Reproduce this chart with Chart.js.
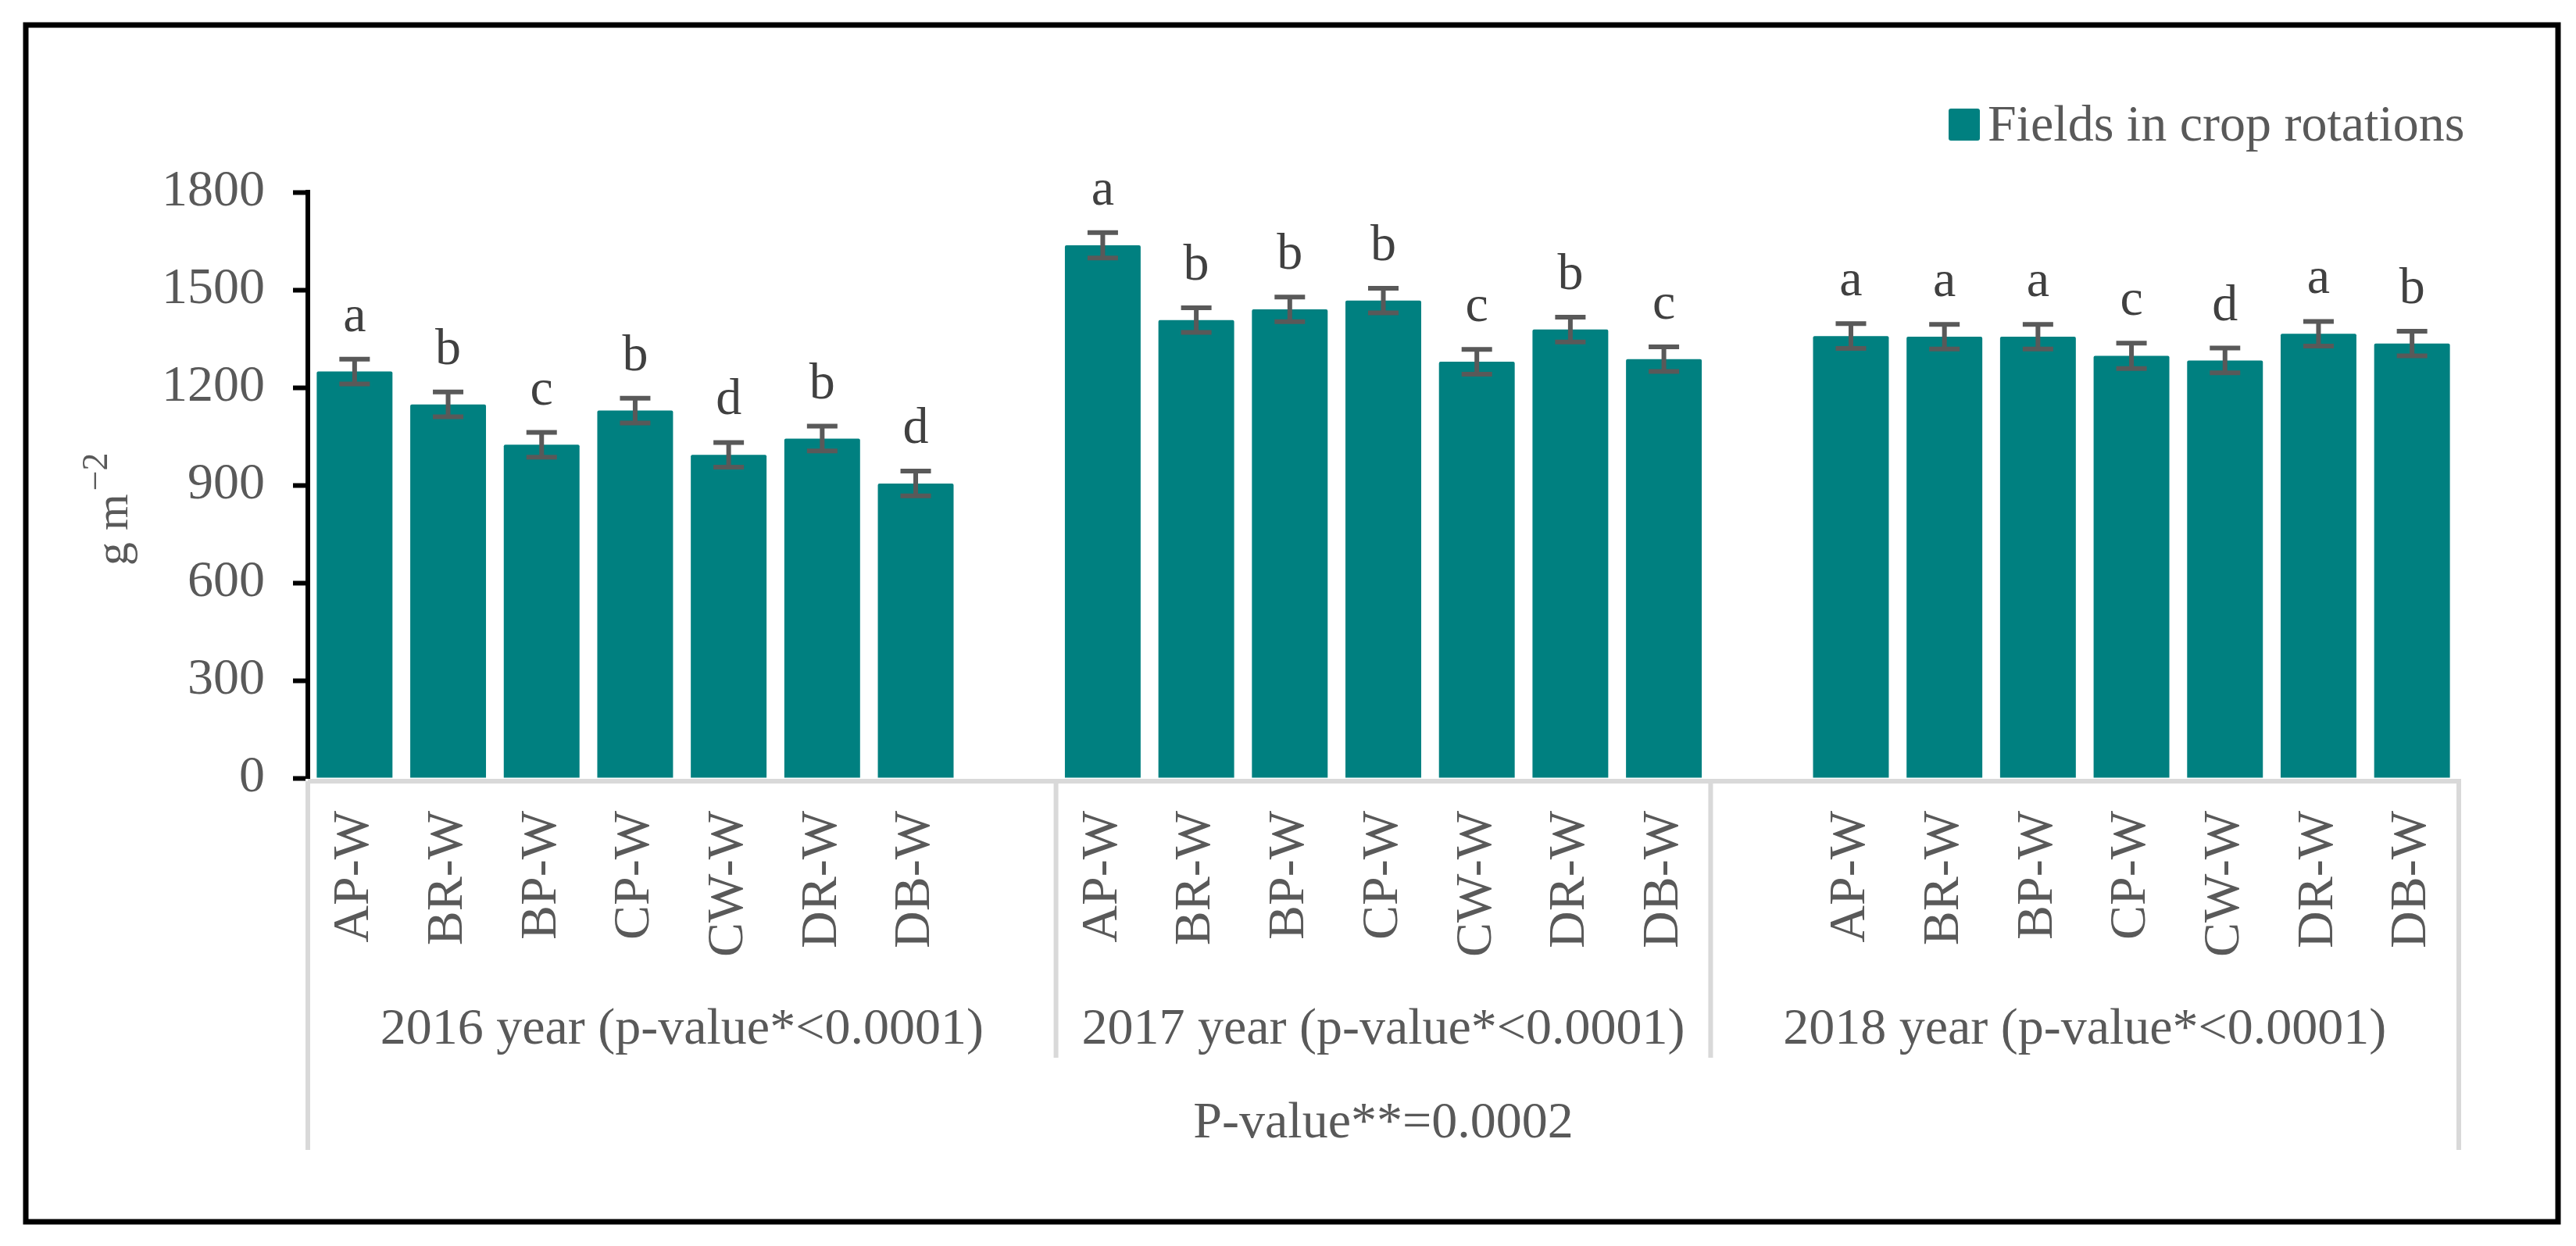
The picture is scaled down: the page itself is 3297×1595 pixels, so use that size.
<!DOCTYPE html>
<html>
<head>
<meta charset="utf-8">
<script src="https://cdn.jsdelivr.net/npm/chart.js@4.4.1/dist/chart.umd.min.js"></script>
<style>
  html, body { margin: 0; padding: 0; background: #fff; }
  canvas { display: block; }
</style>
</head>
<body>
<canvas id="chart" width="3297" height="1595"></canvas>
<script>
// rotations shown under each year
const rotations = ['AP-W', 'BR-W', 'BP-W', 'CP-W', 'CW-W', 'DR-W', 'DB-W'];
const yearTitles = ['2016 year (p-value*<0.0001)', '2017 year (p-value*<0.0001)', '2018 year (p-value*<0.0001)'];
const overallTitle = 'P-value**=0.0002';
const legendLabel = 'Fields in crop rotations';

// g m-2
const values2016 = [1249, 1148, 1024, 1129, 993, 1043, 905];
const values2017 = [1637, 1407, 1440, 1467, 1279, 1378, 1287];
const values2018 = [1358, 1356, 1356, 1297, 1283, 1365, 1335];

const errors2016 = [38, 38, 38, 38, 38, 38, 38];
const errors2017 = [39, 38, 38, 38, 38, 38, 38];
const errors2018 = [38, 38, 38, 39, 38, 38, 38];

const letters2016 = ['a', 'b', 'c', 'b', 'd', 'b', 'd'];
const letters2017 = ['a', 'b', 'b', 'b', 'c', 'b', 'c'];
const letters2018 = ['a', 'a', 'a', 'c', 'd', 'a', 'b'];

// Excel left an empty slot after 2016 and before 2018
const labels = [...rotations, '', ...rotations, '', ...rotations];
const values = [...values2016, null, ...values2017, null, ...values2018];
const errors = [...errors2016, null, ...errors2017, null, ...errors2018];
const letters = [...letters2016, '', ...letters2017, '', ...letters2018];
const groupSpans = [[0, 7], [8, 14], [15, 22]];

const TEAL = '#008080';
const TEXT = '#595959';
const FONT = "'Liberation Serif', 'Times New Roman', serif";
const FS = 66;

const extras = {
  id: 'extras',
  beforeDatasetsDraw(chart) {
    const { ctx, chartArea, scales: { x } } = chart;
    const edge = v => x.getPixelForValue(v);
    const base = chartArea.bottom + 4;
    const left = edge(-0.5);
    const right = edge(labels.length - 0.5);
    ctx.save();
    ctx.strokeStyle = '#d9d9d9';
    ctx.lineWidth = 6;
    ctx.beginPath();
    ctx.moveTo(left, base);
    ctx.lineTo(right + 3, base);
    ctx.moveTo(left, base);
    ctx.lineTo(left, chartArea.bottom + 476);
    ctx.moveTo(right, base);
    ctx.lineTo(right, chartArea.bottom + 476);
    groupSpans.slice(1).forEach(([s]) => {
      ctx.moveTo(edge(s - 0.5), base);
      ctx.lineTo(edge(s - 0.5), chartArea.bottom + 358);
    });
    ctx.stroke();
    ctx.restore();
  },
  afterDatasetsDraw(chart) {
    const { ctx, scales: { y } } = chart;
    const meta = chart.getDatasetMeta(0);
    ctx.save();
    ctx.strokeStyle = TEXT;
    ctx.lineWidth = 6;
    ctx.font = `${FS}px ${FONT}`;
    ctx.textAlign = 'center';
    ctx.textBaseline = 'alphabetic';
    ctx.fillStyle = '#404040';
    values.forEach((v, i) => {
      if (v == null) return;
      const cx = meta.data[i].x;
      const top = y.getPixelForValue(v + errors[i]);
      const bot = y.getPixelForValue(v - errors[i]);
      ctx.beginPath();
      ctx.moveTo(cx, top); ctx.lineTo(cx, bot);
      ctx.moveTo(cx - 19.5, top); ctx.lineTo(cx + 19.5, top);
      ctx.moveTo(cx - 19.5, bot); ctx.lineTo(cx + 19.5, bot);
      ctx.stroke();
      ctx.fillText(letters[i], cx, top - 36);
    });
    ctx.restore();
  },
  afterDraw(chart) {
    const { ctx, chartArea, scales: { x } } = chart;
    const edge = v => x.getPixelForValue(v);
    ctx.save();
    ctx.fillStyle = TEXT;
    ctx.font = `${FS}px ${FONT}`;
    ctx.textAlign = 'center';
    ctx.textBaseline = 'alphabetic';
    groupSpans.forEach(([s, e], i) => {
      ctx.fillText(yearTitles[i], (edge(s - 0.5) + edge(e + 0.5)) / 2, chartArea.bottom + 340);
    });
    ctx.fillText(overallTitle, (edge(-0.5) + edge(labels.length - 0.5)) / 2, chartArea.bottom + 460);

    // y axis title: g m^-2
    ctx.save();
    ctx.translate(163, 724);
    ctx.rotate(-Math.PI / 2);
    ctx.textAlign = 'left';
    ctx.font = `60px ${FONT}`;
    ctx.fillText('g m', 0, 0);
    const w = ctx.measureText('g m').width;
    ctx.font = `46px ${FONT}`;
    ctx.fillText('\u22122', w + 4, -26);
    ctx.restore();

    // legend
    ctx.fillStyle = TEAL;
    ctx.beginPath();
    ctx.roundRect(2494, 139, 40, 41, 3);
    ctx.fill();
    ctx.fillStyle = TEXT;
    ctx.textAlign = 'left';
    ctx.font = `${FS}px ${FONT}`;
    ctx.fillText(legendLabel, 2544, 180);

    // outer frame
    ctx.strokeStyle = '#000';
    ctx.lineWidth = 7;
    ctx.strokeRect(33, 32, 3274 - 33, 1564 - 32);
    ctx.restore();
  }
};

Chart.defaults.font.family = FONT;
Chart.defaults.font.size = FS;
Chart.defaults.color = TEXT;

new Chart(document.getElementById('chart').getContext('2d'), {
  type: 'bar',
  data: {
    labels,
    datasets: [{
      label: legendLabel,
      data: values,
      backgroundColor: TEAL,
      borderRadius: 2,
      borderSkipped: 'bottom',
      categoryPercentage: 1,
      barPercentage: 0.81,
    }],
  },
  options: {
    responsive: false,
    devicePixelRatio: 1,
    animation: false,
    layout: { padding: { top: 246, left: 0, right: 150, bottom: 299 } },
    plugins: {
      legend: { display: false },
      tooltip: { enabled: false },
    },
    scales: {
      x: {
        grid: { display: false, drawTicks: false },
        border: { display: false },
        ticks: {
          autoSkip: false,
          minRotation: 90,
          maxRotation: 90,
          padding: 42,
          color: TEXT,
          font: { size: FS },
        },
        afterFit: s => { s.height = 300; },
      },
      y: {
        min: 0,
        max: 1800,
        ticks: {
          stepSize: 300,
          padding: 36,
          color: TEXT,
          font: { size: FS },
          callback: v => String(v),
        },
        grid: { drawOnChartArea: false, tickLength: 19, tickWidth: 6, tickColor: '#000' },
        border: { color: '#000', width: 6 },
        afterFit: s => { s.width = 394; },
      },
    },
  },
  plugins: [extras],
});
</script>
</body>
</html>
